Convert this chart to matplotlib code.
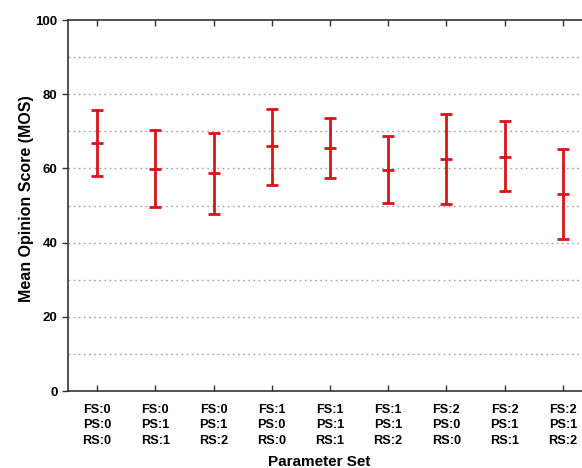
import matplotlib.pyplot as plt
import numpy as np

# dados
rotulos = ["FS:0\nPS:0\nRS:0", "FS:0\nPS:1\nRS:1", "FS:0\nPS:1\nRS:2",
           "FS:1\nPS:0\nRS:0", "FS:1\nPS:1\nRS:1", "FS:1\nPS:1\nRS:2",
           "FS:2\nPS:0\nRS:0", "FS:2\nPS:1\nRS:1", "FS:2\nPS:1\nRS:2"]
media = [67.0, 59.9, 58.7, 66.0, 65.6, 59.5, 62.5, 63.1, 53.0]
superior = [75.9, 70.4, 69.7, 76.1, 73.7, 68.7, 74.7, 72.9, 65.2]
inferior = [57.9, 49.6, 47.7, 55.6, 57.5, 50.8, 50.4, 53.8, 41.1]

plt.rcParams['font.family'] = 'Liberation Sans'
plt.rcParams['font.weight'] = 'bold'

fig = plt.figure(figsize=(5.82, 4.68), dpi=100)
ax = fig.add_axes([0.1168, 0.1645, 0.9002, 0.7925])

x = np.arange(1, len(media) + 1)
media_a = np.array(media)
erro = [media_a - np.array(inferior), np.array(superior) - media_a]
cor = "#d8141c"
ax.errorbar(x, media, yerr=erro, fmt="_", color=cor, ecolor=cor,
            elinewidth=2, capsize=4.5, capthick=2, markersize=9, mew=2)

ax.set_xlim(0.5, 9.5)
ax.set_ylim(0, 100)
ax.set_yticks([0, 20, 40, 60, 80, 100])
ax.set_xticks(x)
ax.set_xticklabels(rotulos, fontsize=9.2, fontweight="bold", linespacing=1.4)
ax.tick_params(axis="y", labelsize=9.5, direction="out", length=4, width=1, colors="#333333", labelcolor="black")
ax.tick_params(axis="x", direction="in", length=4, width=1, top=True, colors="#333333", labelcolor="black", pad=9)

for v in range(10, 100, 10):
    ax.axhline(v, color="#a0a0a0", linestyle=(0, (1.2, 2.5)), linewidth=1, zorder=0)

for s in ax.spines.values():
    s.set_color("#333333")
    s.set_linewidth(1.2)

# títulos dos eixos posicionados como no original
fig.text(319 / 582, 1 - 466 / 468, "Parameter Set", fontsize=11, fontweight="bold",
         ha="center", va="baseline")
fig.text(27 / 582, 1 - 199 / 468, "Mean Opinion Score (MOS)", fontsize=11.5, fontweight="bold",
         ha="center", va="center", rotation=90)

fig.savefig("out.png", dpi=100)
